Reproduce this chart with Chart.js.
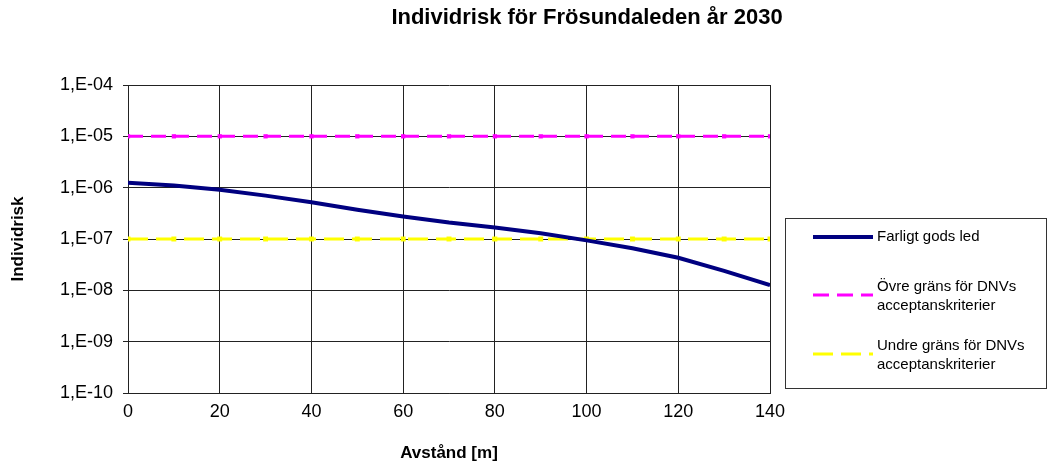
<!DOCTYPE html>
<html>
<head>
<meta charset="utf-8">
<script src="https://cdn.jsdelivr.net/npm/chart.js@4"></script>
<style>
  html, body { margin: 0; padding: 0; background: #fff; }
  #wrap { width: 1049px; height: 465px; }
</style>
</head>
<body>
<div id="wrap"><canvas id="riskChart"></canvas></div>
<script>
// Data
const distances = [0, 10, 20, 30, 40, 50, 60, 70, 80, 90, 100, 110, 120, 130, 140];
const farligtGods = [1.24e-6, 1.1e-6, 0.91e-6, 0.7e-6, 0.52e-6, 0.37e-6, 0.275e-6, 0.21e-6,
                     0.168e-6, 0.13e-6, 0.094e-6, 0.066e-6, 0.043e-6, 0.024e-6, 0.0126e-6];
const ovreGrans = [1e-5, 1e-5, 1e-5, 1e-5, 1e-5, 1e-5, 1e-5, 1e-5, 1e-5, 1e-5, 1e-5, 1e-5, 1e-5, 1e-5, 1e-5];
const undreGrans = [1e-7, 1e-7, 1e-7, 1e-7, 1e-7, 1e-7, 1e-7, 1e-7, 1e-7, 1e-7, 1e-7, 1e-7, 1e-7, 1e-7, 1e-7];
const yTicks = [1e-10, 1e-9, 1e-8, 1e-7, 1e-6, 1e-5, 1e-4];
const xTicks = [0, 20, 40, 60, 80, 100, 120, 140];

const seriesNames = ['Farligt gods led', 'Övre gräns för DNVs acceptanskriterier', 'Undre gräns för DNVs acceptanskriterier'];
const legendLines = [['Farligt gods led'], ['Övre gräns för DNVs', 'acceptanskriterier'], ['Undre gräns för DNVs', 'acceptanskriterier']];

const FONT = '"Liberation Sans", Arial, sans-serif';

function toPoints(values) {
    return distances.map((d, i) => ({ x: d, y: values[i] }));
}

// Format 1e-5 as "1,E-05"
function expLabel(v) {
    const e = Math.round(Math.log10(v));
    const abs = Math.abs(e);
    return '1,E' + (e < 0 ? '-' : '+') + (abs < 10 ? '0' + abs : abs);
}

// Chart title drawn by hand
const titlePlugin = {
    id: 'titlePlugin',
    afterDraw(chart) {
        const ctx = chart.ctx;
        ctx.save();
        ctx.font = 'bold 22px ' + FONT;
        ctx.fillStyle = '#000';
        ctx.textAlign = 'center';
        ctx.textBaseline = 'middle';
        ctx.fillText('Individrisk för Frösundaleden år 2030', 587, 18);
        ctx.restore();
    }
};

// Boxed legend on the right
const boxLegend = {
    id: 'boxLegend',
    afterDraw(chart) {
        const ctx = chart.ctx;
        ctx.save();
        ctx.strokeStyle = '#333';
        ctx.lineWidth = 1;
        ctx.strokeRect(785.5, 218.5, 261, 170);

        const rows = [237, 295, 354];
        chart.data.datasets.forEach((ds, i) => {
            const y = rows[i];
            ctx.beginPath();
            ctx.strokeStyle = ds.borderColor;
            ctx.lineWidth = ds.borderWidth;
            ctx.setLineDash(ds.legendDash || []);
            ctx.moveTo(813, y);
            ctx.lineTo(873, y);
            ctx.stroke();
            ctx.setLineDash([]);

            ctx.font = '15px ' + FONT;
            ctx.fillStyle = '#000';
            ctx.textAlign = 'left';
            ctx.textBaseline = 'middle';
            const lines = legendLines[i];
            const y0 = lines.length === 1 ? y : y - 8;
            lines.forEach((t, k) => ctx.fillText(t, 877, y0 + k * 19));
        });
        ctx.restore();
    }
};

const ctx = document.getElementById('riskChart').getContext('2d');

const riskChart = new Chart(ctx, {
    type: 'line',
    data: {
        datasets: [
            {
                label: seriesNames[0],
                data: toPoints(farligtGods),
                borderColor: '#000080',
                borderWidth: 4,
                pointRadius: 0,
                tension: 0
            },
            {
                label: seriesNames[1],
                data: toPoints(ovreGrans),
                borderColor: '#ff00ff',
                borderWidth: 3,
                borderDash: [15, 8],
                legendDash: [16, 8],
                pointStyle: 'rect',
                pointRadius: 3,
                pointBorderWidth: 0,
                pointBackgroundColor: '#ff00ff'
            },
            {
                label: seriesNames[2],
                data: toPoints(undreGrans),
                borderColor: '#ffff00',
                borderWidth: 3,
                borderDash: [20, 8],
                legendDash: [20, 8],
                pointStyle: 'rect',
                pointRadius: 3.5,
                pointBorderWidth: 0,
                pointBackgroundColor: '#ffff00'
            }
        ]
    },
    options: {
        responsive: true,
        maintainAspectRatio: false,
        animation: false,
        layout: {
            padding: { top: 85, right: 279, bottom: 0, left: 0 }
        },
        plugins: {
            legend: { display: false },
            title: { display: false },
            tooltip: { enabled: false }
        },
        scales: {
            x: {
                type: 'linear',
                min: 0,
                max: 140,
                afterBuildTicks: scale => { scale.ticks = xTicks.map(v => ({ value: v })); },
                afterFit: scale => { scale.height = 72; },
                ticks: {
                    color: '#000',
                    padding: 8,
                    maxRotation: 0,
                    font: { family: FONT, size: 18 }
                },
                grid: {
                    color: '#222',
                    lineWidth: 1,
                    drawTicks: false
                },
                border: { color: '#222' },
                title: {
                    display: true,
                    text: 'Avstånd [m]',
                    color: '#000',
                    padding: { top: 0, bottom: 1 },
                    font: { family: FONT, size: 17, weight: 'bold' }
                }
            },
            y: {
                type: 'logarithmic',
                min: 1e-10,
                max: 1e-4,
                afterBuildTicks: scale => { scale.ticks = yTicks.map(v => ({ value: v })); },
                afterFit: scale => { scale.width = 128; },
                ticks: {
                    color: '#000',
                    padding: 10,
                    font: { family: FONT, size: 18 },
                    callback: v => expLabel(v)
                },
                grid: {
                    color: '#222',
                    lineWidth: 1,
                    tickLength: 5
                },
                border: { color: '#222' },
                title: {
                    display: true,
                    text: 'Individrisk',
                    color: '#000',
                    padding: { top: 8, bottom: 0 },
                    font: { family: FONT, size: 17, weight: 'bold' }
                }
            }
        }
    },
    plugins: [titlePlugin, boxLegend]
});
</script>
</body>
</html>
